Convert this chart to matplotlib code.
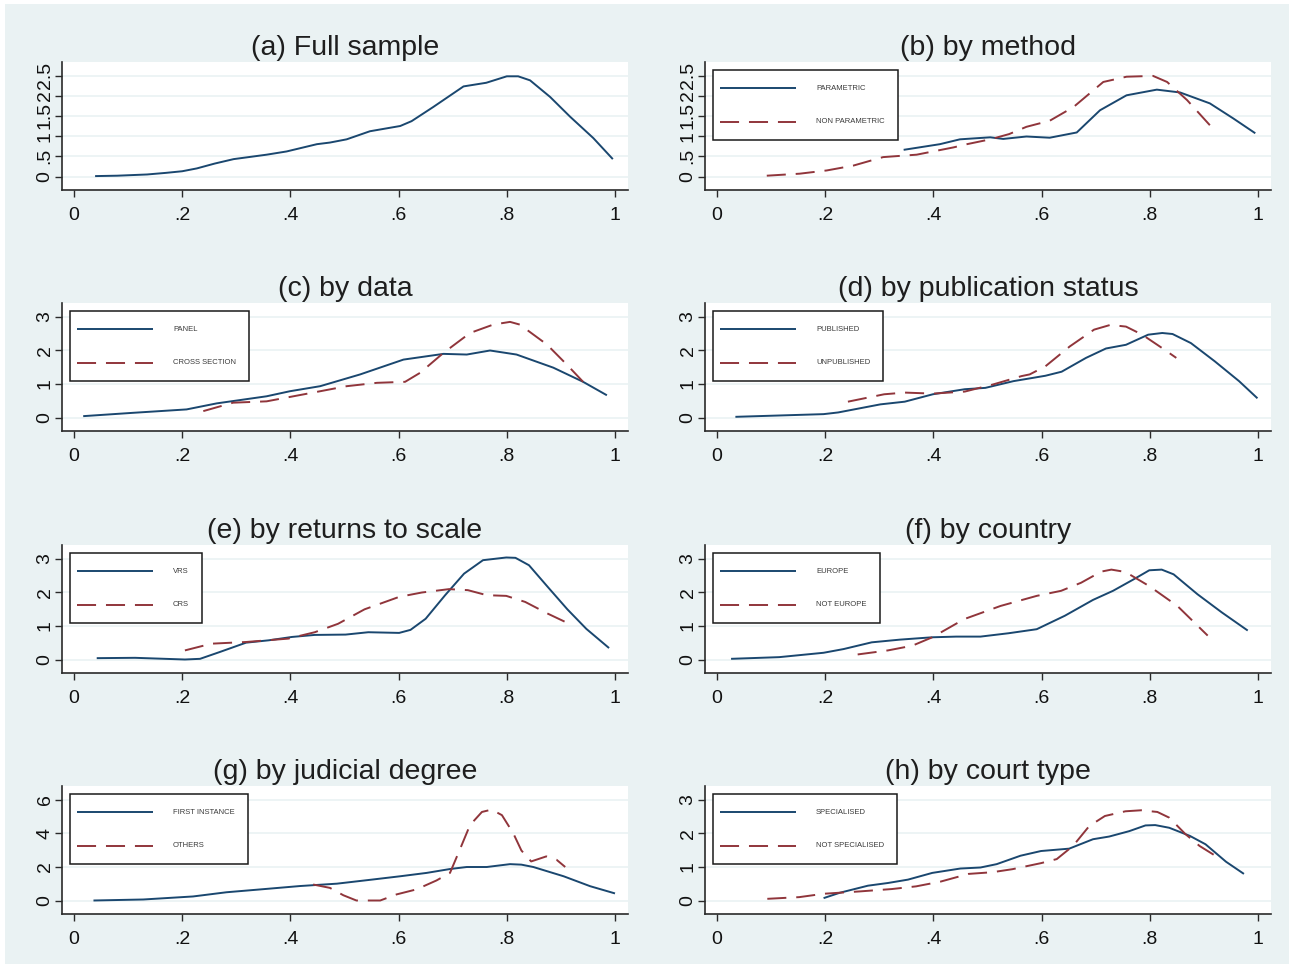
import matplotlib
matplotlib.use("Agg")
import matplotlib.pyplot as plt
from matplotlib.patches import Rectangle
from matplotlib.lines import Line2D

plt.rcParams['font.family'] = ['Liberation Sans', 'DejaVu Sans']

# ---------------- data ----------------
x_ticks = [0, 0.2, 0.4, 0.6, 0.8, 1.0]
x_ticklabels = ["0", ".2", ".4", ".6", ".8", "1"]

# (a) Full sample
a_x = [0.039, 0.08, 0.135, 0.17, 0.2, 0.227, 0.26, 0.295, 0.356, 0.393, 0.449, 0.473, 0.504, 0.547,
       0.603, 0.624, 0.664, 0.72, 0.762, 0.8, 0.821, 0.843, 0.88, 0.917, 0.96, 0.996]
a_y = [0.01, 0.02, 0.05, 0.09, 0.13, 0.2, 0.32, 0.43, 0.54, 0.62, 0.80, 0.84, 0.92, 1.12,
       1.25, 1.37, 1.72, 2.23, 2.32, 2.48, 2.48, 2.38, 1.97, 1.48, 0.95, 0.43]

# (b) by method
b1_x = [0.345, 0.412, 0.449, 0.505, 0.529, 0.572, 0.615, 0.665, 0.708, 0.757, 0.813, 0.856, 0.911, 0.954, 0.995]
b1_y = [0.66, 0.80, 0.92, 0.97, 0.93, 0.99, 0.96, 1.09, 1.64, 2.01, 2.15, 2.08, 1.81, 1.44, 1.07]
b2_x = [0.092, 0.153, 0.203, 0.252, 0.307, 0.369, 0.437, 0.462, 0.505, 0.54, 0.572, 0.615, 0.659,
        0.714, 0.757, 0.806, 0.832, 0.869, 0.911]
b2_y = [0.02, 0.07, 0.15, 0.27, 0.48, 0.54, 0.72, 0.80, 0.92, 1.05, 1.23, 1.38, 1.72,
        2.34, 2.47, 2.49, 2.34, 1.89, 1.27]

# (c) by data
c1_x = [0.017, 0.11, 0.208, 0.264, 0.356, 0.399, 0.455, 0.529, 0.609, 0.683, 0.726, 0.769, 0.818, 0.886, 0.941, 0.985]
c1_y = [0.04, 0.14, 0.24, 0.42, 0.63, 0.78, 0.93, 1.28, 1.72, 1.89, 1.87, 1.99, 1.87, 1.48, 1.06, 0.66]
c2_x = [0.239, 0.294, 0.356, 0.455, 0.504, 0.56, 0.612, 0.64, 0.683, 0.732, 0.775, 0.806, 0.824, 0.874, 0.911, 0.941]
c2_y = [0.19, 0.44, 0.48, 0.78, 0.93, 1.03, 1.06, 1.33, 1.92, 2.51, 2.76, 2.84, 2.76, 2.17, 1.57, 1.06]

# (d) by publication status
d1_x = [0.034, 0.197, 0.224, 0.302, 0.347, 0.399, 0.458, 0.496, 0.548, 0.607, 0.637, 0.682, 0.719,
        0.756, 0.797, 0.823, 0.842, 0.876, 0.92, 0.965, 0.999]
d1_y = [0.02, 0.10, 0.15, 0.39, 0.47, 0.69, 0.84, 0.88, 1.08, 1.24, 1.36, 1.77, 2.05,
        2.16, 2.46, 2.51, 2.48, 2.21, 1.67, 1.08, 0.57]
d2_x = [0.242, 0.309, 0.347, 0.399, 0.458, 0.51, 0.563, 0.578, 0.607, 0.652, 0.697, 0.727, 0.756, 0.786, 0.823, 0.849]
d2_y = [0.47, 0.69, 0.74, 0.71, 0.77, 0.98, 1.23, 1.28, 1.52, 2.11, 2.61, 2.75, 2.70, 2.46, 2.06, 1.77]

# (e) by returns to scale
e1_x = [0.042, 0.113, 0.205, 0.233, 0.269, 0.318, 0.36, 0.403, 0.445, 0.502, 0.544, 0.601, 0.622, 0.65,
        0.686, 0.721, 0.756, 0.799, 0.816, 0.841, 0.876, 0.912, 0.947, 0.989]
e1_y = [0.04, 0.05, 0.0, 0.02, 0.22, 0.50, 0.57, 0.67, 0.73, 0.74, 0.81, 0.79, 0.88, 1.21,
        1.91, 2.55, 2.95, 3.03, 3.02, 2.80, 2.15, 1.49, 0.91, 0.34]
e2_x = [0.205, 0.254, 0.318, 0.396, 0.445, 0.488, 0.537, 0.601, 0.643, 0.693, 0.728, 0.763, 0.799, 0.834, 0.876, 0.922]
e2_y = [0.27, 0.47, 0.52, 0.62, 0.81, 1.06, 1.49, 1.86, 1.99, 2.09, 2.06, 1.91, 1.89, 1.71, 1.36, 1.01]

# (f) by country
f1_x = [0.026, 0.115, 0.197, 0.234, 0.286, 0.338, 0.398, 0.442, 0.487, 0.539, 0.591, 0.643, 0.695,
        0.732, 0.77, 0.799, 0.822, 0.844, 0.888, 0.933, 0.981]
f1_y = [0.02, 0.07, 0.20, 0.31, 0.51, 0.59, 0.66, 0.68, 0.68, 0.78, 0.90, 1.30, 1.77,
        2.04, 2.38, 2.65, 2.67, 2.53, 1.94, 1.40, 0.86]
f2_x = [0.26, 0.316, 0.361, 0.398, 0.457, 0.524, 0.591, 0.636, 0.673, 0.71, 0.729, 0.755, 0.799, 0.851, 0.907]
f2_y = [0.15, 0.27, 0.41, 0.66, 1.20, 1.59, 1.89, 2.04, 2.28, 2.61, 2.67, 2.60, 2.18, 1.59, 0.71]

# (g) by judicial degree
g1_x = [0.036, 0.128, 0.22, 0.282, 0.356, 0.418, 0.486, 0.553, 0.603, 0.652, 0.695, 0.726, 0.763,
        0.806, 0.827, 0.849, 0.905, 0.954, 1.0]
g1_y = [0.0, 0.06, 0.24, 0.49, 0.69, 0.86, 1.0, 1.25, 1.44, 1.64, 1.87, 1.99, 1.99,
        2.16, 2.13, 1.99, 1.44, 0.85, 0.42]
g2_x = [0.442, 0.473, 0.498, 0.522, 0.566, 0.596, 0.633, 0.67, 0.695, 0.713, 0.732, 0.754, 0.772,
        0.791, 0.812, 0.827, 0.845, 0.873, 0.892, 0.908]
g2_y = [0.95, 0.75, 0.31, 0.0, 0.0, 0.36, 0.66, 1.19, 1.64, 3.01, 4.48, 5.26, 5.40,
        5.07, 3.99, 2.97, 2.32, 2.62, 2.42, 1.99]

# (h) by court type
h1_x = [0.197, 0.227, 0.279, 0.316, 0.353, 0.398, 0.45, 0.487, 0.517, 0.561, 0.599, 0.651, 0.695,
        0.725, 0.762, 0.792, 0.81, 0.836, 0.874, 0.903, 0.941, 0.974]
h1_y = [0.07, 0.23, 0.44, 0.52, 0.62, 0.82, 0.95, 0.98, 1.08, 1.33, 1.47, 1.54, 1.82,
        1.90, 2.06, 2.23, 2.24, 2.16, 1.92, 1.67, 1.15, 0.79]
h2_x = [0.093, 0.152, 0.197, 0.264, 0.323, 0.368, 0.413, 0.465, 0.509, 0.546, 0.599, 0.628, 0.658,
        0.688, 0.717, 0.755, 0.784, 0.814, 0.836, 0.866, 0.892, 0.918]
h2_y = [0.05, 0.10, 0.20, 0.27, 0.34, 0.42, 0.56, 0.79, 0.84, 0.93, 1.11, 1.23, 1.62,
        2.21, 2.51, 2.65, 2.68, 2.63, 2.46, 1.97, 1.62, 1.36]

yt_a = [0, 0.5, 1, 1.5, 2, 2.5]
yl_a = ["0", ".5", "1", "1.5", "2", "2.5"]
yt_3 = [0, 1, 2, 3]
yl_3 = ["0", "1", "2", "3"]
yt_6 = [0, 2, 4, 6]
yl_6 = ["0", "2", "4", "6"]

panels = [
    ("(a) Full sample", [(a_x, a_y, None)], yt_a, yl_a),
    ("(b) by method", [(b1_x, b1_y, "PARAMETRIC"), (b2_x, b2_y, "NON PARAMETRIC")], yt_a, yl_a),
    ("(c) by data", [(c1_x, c1_y, "PANEL"), (c2_x, c2_y, "CROSS SECTION")], yt_3, yl_3),
    ("(d) by publication status", [(d1_x, d1_y, "PUBLISHED"), (d2_x, d2_y, "UNPUBLISHED")], yt_3, yl_3),
    ("(e) by returns to scale", [(e1_x, e1_y, "VRS"), (e2_x, e2_y, "CRS")], yt_3, yl_3),
    ("(f) by country", [(f1_x, f1_y, "EUROPE"), (f2_x, f2_y, "NOT EUROPE")], yt_3, yl_3),
    ("(g) by judicial degree", [(g1_x, g1_y, "FIRST INSTANCE"), (g2_x, g2_y, "OTHERS")], yt_6, yl_6),
    ("(h) by court type", [(h1_x, h1_y, "SPECIALISED"), (h2_x, h2_y, "NOT SPECIALISED")], yt_3, yl_3),
]

# ---------------- styling ----------------
W, H = 1293, 968
BG = "#EAF2F3"
NAVY = "#1A476F"
MAROON = "#90353B"
AX = "#2a2a2a"

fig = plt.figure(figsize=(W / 100, H / 100), dpi=100, facecolor="white")
bg_rect = Rectangle((5 / W, 4 / H), (1289 - 5) / W, (964 - 4) / H,
                    transform=fig.transFigure, facecolor=BG,
                    edgecolor="none", zorder=-10)
fig.add_artist(bg_rect)
renderer = fig.canvas.get_renderer()

col_left = [62, 705]
ax_w = 566
row_top = [62, 303, 545, 786]
ax_h = 128

styles = [dict(color=NAVY, lw=1.4, ls="-"),
          dict(color=MAROON, lw=1.4, ls=(0, (9.8, 5.1)))]

# legend geometry in pixels, measured from the axes' top-left corner
LEG_X0, LEG_Y0, LEG_H = 8, 8, 70
LINE_X0, LINE_X1 = 15, 91
LINE_Y = [26.3, 59.7]
TEXT_X = 111
TEXT_RPAD = 13


def px(ax_x, ax_y):
    """pixel offsets from top-left of axes -> axes fraction"""
    return ax_x / ax_w, 1 - ax_y / ax_h


for i, (title, series, yt, yl) in enumerate(panels):
    r, c = divmod(i, 2)
    left = col_left[c] / W
    bottom = 1 - (row_top[r] + ax_h) / H
    ax = fig.add_axes([left, bottom, ax_w / W, ax_h / H])
    ax.set_zorder(1)
    ax.set_facecolor("white")

    for k, (xs, ys, lab) in enumerate(series):
        ax.plot(xs, ys, label=lab, solid_capstyle="butt", dash_capstyle="butt", **styles[k])

    ymax = yt[-1]
    m = ymax * 13.5 / 101.0
    ax.set_ylim(-m, ymax + m)
    ax.set_xlim(-12 / 541, 1 + 13 / 541)

    ax.set_xticks(x_ticks)
    ax.set_xticklabels(x_ticklabels)
    ax.set_yticks(yt)
    ax.set_yticklabels(yl, rotation=90, va="center")

    ax.yaxis.grid(True, color=BG, lw=1.2)
    ax.set_axisbelow(True)
    for s in ["top", "right"]:
        ax.spines[s].set_visible(False)
    for s in ["left", "bottom"]:
        ax.spines[s].set_color(AX)
        ax.spines[s].set_linewidth(1.2)
    ax.tick_params(axis="both", direction="out", length=5, width=1.0, color=AX,
                   labelsize=14, labelcolor="#111111")
    ax.tick_params(axis="x", pad=7)
    ax.tick_params(axis="y", pad=1)

    ax.set_title(title, fontsize=20.5, color="#1e1e1e", pad=5)

    if len(series) > 1:
        # Stata-style legend box drawn inside the plot region
        texts = []
        for k, (xs, ys, lab) in enumerate(series):
            lx0, ly = px(LINE_X0, LINE_Y[k])
            lx1, _ = px(LINE_X1, LINE_Y[k])
            ln = Line2D([lx0, lx1], [ly, ly], transform=ax.transAxes, zorder=6,
                        solid_capstyle="butt", dash_capstyle="butt", **styles[k])
            ax.add_line(ln)
            tx, ty = px(TEXT_X, LINE_Y[k])
            t = ax.text(tx, ty, lab, transform=ax.transAxes, fontsize=5.5,
                        color="#3a3a3a", ha="left", va="center", zorder=6)
            texts.append(t)
        tw = max(t.get_window_extent(renderer).width for t in texts)
        box_w = TEXT_X + tw + TEXT_RPAD - LEG_X0
        bx, by = px(LEG_X0, LEG_Y0 + LEG_H)
        box = Rectangle((bx, by), box_w / ax_w, LEG_H / ax_h, transform=ax.transAxes,
                        facecolor="white", edgecolor="#1a1a1a", lw=1.1, zorder=5)
        ax.add_patch(box)

fig.savefig("out.png", dpi=100, facecolor=fig.get_facecolor())
